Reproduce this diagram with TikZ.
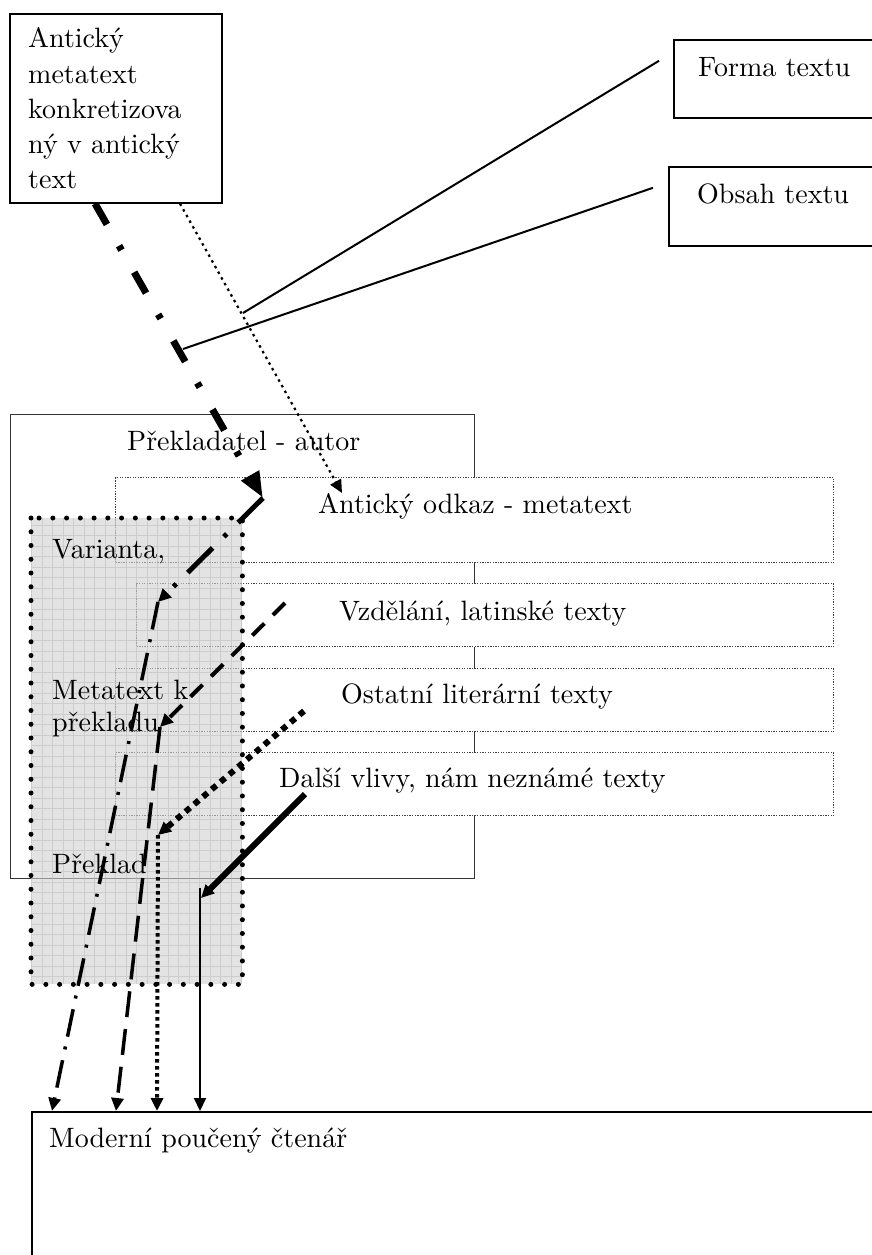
\documentclass[tikz,border=0pt]{standalone}
\usepackage{fontspec}
\setmainfont{lmroman10-regular.otf}
\usetikzlibrary{arrows.meta}
\tikzset{
  >={Triangle[length=13pt,width=12pt]},
  lbl/.style={anchor=base west,inner sep=0pt,font=\fontsize{28}{35}\selectfont},
  frame/.style={draw,line width=1.6pt,inner sep=0pt,anchor=north west},
  dotbox/.style={draw=black!75,fill=white,line width=1.3pt,
    dash pattern=on 1.3pt off 1.3pt,inner sep=0pt,anchor=north west},
  shadebox/.style={fill=black!18,fill opacity=0.6,inner sep=0pt,anchor=north west},
  gridline/.style={black!30,line width=0.6pt,opacity=0.45},
  dotborder/.style={line width=5pt,line cap=round,dash pattern=on 0pt off 13.75pt},
  pointer/.style={line width=2pt},
  dashdot big/.style={line width=7pt,dash pattern=on 24pt off 24.5pt on 5pt off 25.5pt,
    -{Triangle[length=26pt,width=19pt]}},
  dashdot mid/.style={line width=5pt,dash pattern=on 35pt off 16pt on 4pt off 16pt,->},
  dashdot low/.style={line width=3.5pt,dash pattern=on 28pt off 10pt on 3pt off 11pt,->},
  dashed mid/.style={line width=4pt,dash pattern=on 17pt off 12pt,->},
  dashed low/.style={line width=3.5pt,dash pattern=on 26pt off 12pt,->},
  dotted big/.style={line width=6pt,dash pattern=on 6pt off 5.5pt,->},
  dotted low/.style={line width=4pt,dash pattern=on 3.5pt off 3.5pt,->},
  dotted thin/.style={line width=2.2pt,dash pattern=on 2.5pt off 4pt,->},
  solid big/.style={line width=6pt,->},
  solid low/.style={line width=2pt,->},
}
\begin{document}
\begin{tikzpicture}[x=1pt,y=-1pt]
\useasboundingbox (0,0) rectangle (872,1255);
\clip (0,0) rectangle (872,1255);
% boxes
\node[frame,minimum width=212pt,minimum height=189pt] (meta) at (9,13) {};
\node[frame,minimum width=215pt,minimum height=78pt] (forma) at (673,39) {};
\node[frame,minimum width=220pt,minimum height=79pt] (obsah) at (668,166) {};
\node[frame,draw=black!80,line width=1.4pt,minimum width=464pt,minimum height=464pt] (prek) at (10,414) {};
\node[dotbox,minimum width=718pt,minimum height=85pt] (odkaz) at (115,477) {};
\node[dotbox,minimum width=697pt,minimum height=63pt] (vzd) at (136,583) {};
\node[dotbox,minimum width=718pt,minimum height=63pt] (ost) at (115,668) {};
\node[dotbox,minimum width=718pt,minimum height=63pt] (dal) at (115,752) {};
\node[frame,minimum width=860pt,minimum height=200pt] (ctn) at (31,1111) {};
% stage box
\node[shadebox,minimum width=211pt,minimum height=466pt] (var) at (31,518) {};
\draw[gridline,step=10.5pt] (var.south west) grid (var.north east);
\draw[dotborder] (var.north west) rectangle (var.south east);
% texts
\foreach \t [count=\i] in {Antický,metatext,konkretizova,ný v antický,text}
  \node[lbl] (meta\i) at (28,{13+35*\i}) {\t};
\node[lbl] (tforma) at (698,76) {Forma textu};
\node[lbl] (tobsah) at (697,203) {Obsah textu};
\node[lbl] (tprek) at (127,450) {Překladatel - autor};
\node[lbl] (todkaz) at (318,513) {Antický odkaz - metatext};
\node[lbl] (tvzd) at (339,620) {Vzdělání, latinské texty};
\node[lbl] (tost) at (341,703) {Ostatní literární texty};
\node[lbl] (tdal) at (279,787) {Další vlivy, nám neznámé texty};
\node[lbl] (tvar) at (52,558) {Varianta,};
\node[lbl] (tmeta) at (52,699) {Metatext k};
\node[lbl] (tpkl) at (52,731) {překladu};
\node[lbl] (tpre) at (52,873) {Překlad};
\node[lbl] (tctn) at (49,1147) {Moderní poučený čtenář};
% junctions
\coordinate (eForma) at (243,313);
\coordinate (eObsah) at (183,349);
\coordinate (jOdkaz) at (263,498);
\coordinate (jAnt) at (342,493);
\coordinate (jVar) at (158,602);
\coordinate (sVzd) at (285,603);
\coordinate (jMeta) at (160,727);
\coordinate (sOst) at (304,711);
\coordinate (jPkl) at (158,835);
\coordinate (sDal) at (305,794);
\coordinate (jPreTip) at (201,898);
\coordinate (jPre) at (200,888);
% connectors
\draw[pointer] ([xshift=-14pt,yshift=18pt]forma.west) -- (eForma);
\draw[pointer] ([xshift=-15pt,yshift=18.5pt]obsah.west) -- (eObsah);
\draw[dashdot big] ([xshift=86pt]meta.south west) -- (jOdkaz);
\draw[dotted thin] ([xshift=171pt]meta.south west) -- (jAnt);
\draw[dashdot mid] (jOdkaz) -- (jVar);
\draw[dashdot low] (jVar) -- ([xshift=21pt]ctn.north west);
\draw[dashed mid] (sVzd) -- (jMeta);
\draw[dashed low] (jMeta) -- ([xshift=85pt]ctn.north west);
\draw[dotted big] (sOst) -- (jPkl);
\draw[dotted low] (jPkl) -- ([xshift=126pt]ctn.north west);
\draw[solid big] (sDal) -- (jPreTip);
\draw[solid low] (jPre) -- ([xshift=169pt]ctn.north west);
\end{tikzpicture}
\end{document}
